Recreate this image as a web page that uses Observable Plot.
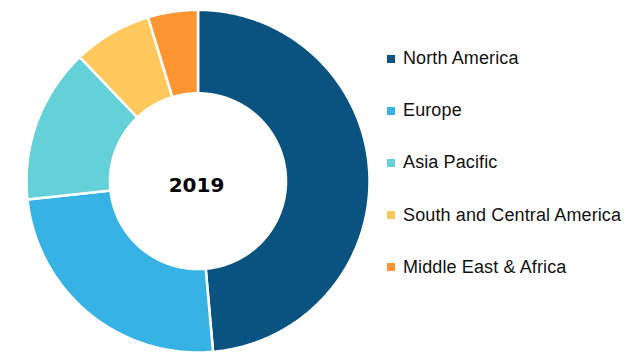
<!DOCTYPE html>
<html>
<head>
<meta charset="utf-8">
<script src="https://cdn.jsdelivr.net/npm/d3@7"></script>
<script src="https://cdn.jsdelivr.net/npm/@observablehq/plot@0.6"></script>
<style>
  html, body { margin: 0; padding: 0; background: #fff; }
  #wrap { position: relative; width: 641px; height: 364px; overflow: hidden; }
  #legend { position: absolute; left: 387px; top: 0; font-family: "Liberation Sans", Arial, sans-serif; font-size: 18px; letter-spacing: 0.12px; color: #111; }
  .item { position: absolute; left: 0; white-space: nowrap; display: flex; align-items: center; height: 20px; }
  .sw { width: 8px; height: 8px; margin-right: 8px; flex: none; }
</style>
</head>
<body>
<div id="wrap"><div id="legend"></div></div>
<script>
const regions = ["North America", "Europe", "Asia Pacific", "South and Central America", "Middle East & Africa"];
const shares = [48.6, 24.7, 14.6, 7.4, 4.7];
const colors = ["#0a5280", "#37b2e4", "#64d0d8", "#ffc85c", "#fd9630"];
const centerLabel = "2019";

const innerRatio = 87.5 / 170.5;

const arcs = d3.pie().sort(null).value(d => d.v)(regions.map((r, i) => ({region: r, v: shares[i]})));
const pts = [];
for (const a of arcs) {
  const n = Math.max(8, Math.ceil((a.endAngle - a.startAngle) / 0.01));
  for (let k = 0; k <= n; k++) {
    const t = a.startAngle + (a.endAngle - a.startAngle) * k / n;
    pts.push({region: a.data.region, x: Math.sin(t), y: Math.cos(t)});
  }
  for (let k = n; k >= 0; k--) {
    const t = a.startAngle + (a.endAngle - a.startAngle) * k / n;
    pts.push({region: a.data.region, x: innerRatio * Math.sin(t), y: innerRatio * Math.cos(t)});
  }
}

const chart = Plot.plot({
  width: 641,
  height: 364,
  margin: 0,
  x: {domain: [-1, 1], range: [26, 369], axis: null},
  y: {domain: [-1, 1], range: [352, 9.4], axis: null},
  color: {domain: regions, range: colors},
  marks: [
    Plot.line(pts, {x: "x", y: "y", z: "region", fill: "region", stroke: "white", strokeWidth: 2.5, curve: "linear-closed"}),
    Plot.text([centerLabel], {x: () => 0, y: () => 0, text: d => d, fontSize: 20, fontWeight: "bold", fontFamily: "DejaVu Sans", fill: "#000", dy: 4, dx: -1.5})
  ]
});
chart.style.position = "absolute";
chart.style.left = "0";
chart.style.top = "0";
document.getElementById("wrap").prepend(chart);

const legend = document.getElementById("legend");
const rowY = [58.5, 110.7, 162.8, 215, 267];
regions.forEach((r, i) => {
  const it = document.createElement("div");
  it.className = "item";
  it.style.top = (rowY[i] - 10) + "px";
  const sw = document.createElement("span");
  sw.className = "sw";
  sw.style.background = colors[i];
  const tx = document.createElement("span");
  tx.textContent = r;
  it.appendChild(sw);
  it.appendChild(tx);
  legend.appendChild(it);
});
</script>
</body>
</html>
